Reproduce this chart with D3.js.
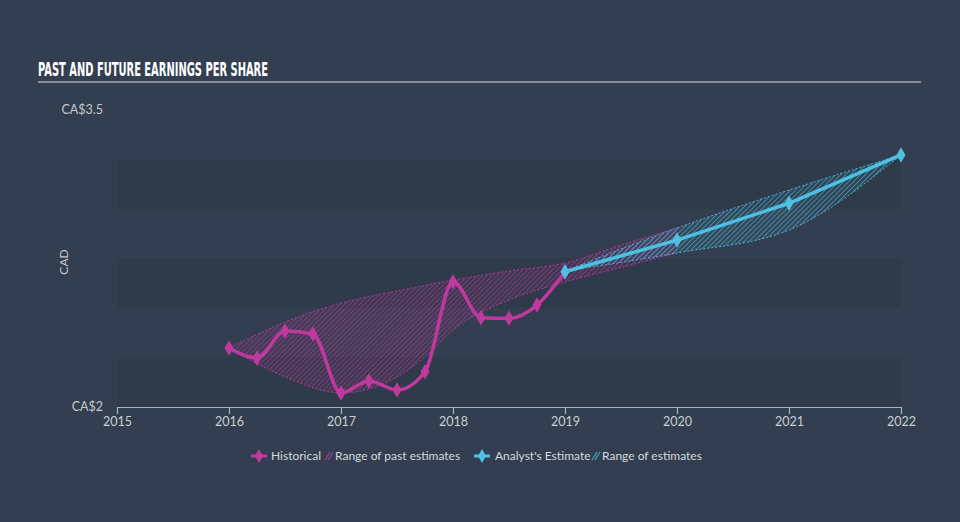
<!DOCTYPE html>
<html><head><meta charset="utf-8">
<script src="https://cdn.jsdelivr.net/npm/d3@7/dist/d3.min.js"></script>
<style>
html,body{margin:0;padding:0;background:#333f50;}
svg{display:block;}
</style></head>
<body>
<script>
// ---- data ----
const histDates = [2016, 2016.25, 2016.5, 2016.75, 2017, 2017.25, 2017.5, 2017.75, 2018, 2018.25, 2018.5, 2018.75, 2019];
const histEPS   = [2.298, 2.247, 2.384, 2.369, 2.071, 2.131, 2.086, 2.178, 2.633, 2.451, 2.448, 2.515, 2.683];
const estDates  = [2019, 2020, 2021, 2022];
const estEPS    = [2.683, 2.843, 3.029, 3.273];
const pastRangeDates = [2016, 2016.5, 2017, 2017.25, 2017.5, 2017.75, 2018, 2018.5, 2019, 2019.5, 2020];
const pastRangeHigh  = [2.298, 2.429, 2.525, 2.558, 2.586, 2.614, 2.641, 2.687, 2.727, 2.818, 2.904];
const pastRangeLow   = [2.298, 2.152, 2.071, 2.091, 2.152, 2.253, 2.389, 2.540, 2.631, 2.705, 2.778];
const estRangeDates = [2019, 2020, 2021, 2022];
const estRangeHigh  = [2.687, 2.904, 3.096, 3.273];
const estRangeLow   = [2.687, 2.778, 2.894, 3.273];
const xTicks = [2015, 2016, 2017, 2018, 2019, 2020, 2021, 2022];
const xTickLabels = ["2015", "2016", "2017", "2018", "2019", "2020", "2021", "2022"];
const yTicks = [2, 3.5];
const yTickLabels = ["CA$2", "CA$3.5"];
const bandStarts = [2, 2.5, 3];
const bandSize = 0.25;

const W = 960, H = 522;
const MAG = "#c0399f", BLUE = "#4dc0e3";
const svg = d3.select("body").append("svg").attr("width", W).attr("height", H);
svg.append("rect").attr("width", W).attr("height", H).attr("fill", "#333f50");

const defs = svg.append("defs");
function hatch(id, color) {
  const p = defs.append("pattern").attr("id", id).attr("patternUnits", "userSpaceOnUse")
    .attr("width", 3.5).attr("height", 3.5).attr("patternTransform", "rotate(45)");
  p.append("line").attr("x1", 0).attr("y1", 0).attr("x2", 0).attr("y2", 3.5)
    .attr("stroke", color).attr("stroke-width", 1.3).attr("stroke-opacity", 0.8);
}
hatch("hatchMag", MAG);
hatch("hatchBlue", BLUE);

const x = d3.scaleLinear().domain([2015, 2022]).range([117, 901]);
const y = d3.scaleLinear().domain([2, 3.5]).range([407, 110]);

// title
svg.append("text").attr("x", 38).attr("y", 76)
  .attr("font-family", "'DejaVu Sans Condensed', 'Liberation Sans Narrow', sans-serif")
  .attr("font-weight", "bold").attr("font-size", 20).attr("fill", "#ffffff")
  .attr("textLength", 230).attr("lengthAdjust", "spacingAndGlyphs")
  .text("PAST AND FUTURE EARNINGS PER SHARE");
svg.append("line").attr("x1", 38).attr("x2", 921).attr("y1", 82).attr("y2", 82)
  .attr("stroke", "#a3acb6").attr("stroke-width", 1.5);

// bands
svg.append("g").selectAll("rect").data(bandStarts).join("rect")
  .attr("x", x(2015)).attr("width", x(2022) - x(2015))
  .attr("y", d => y(d + bandSize)).attr("height", d => y(d) - y(d + bandSize))
  .attr("fill", "#2f3b4a");

// y labels
svg.append("g").selectAll("text").data(yTicks).join("text")
  .attr("x", 103).attr("y", d => y(d) + 4).attr("text-anchor", "end")
  .attr("font-family", "Lato, 'Open Sans', sans-serif").attr("font-size", 12.5)
  .attr("fill", "#c3c9cf").text((d, i) => yTickLabels[i]);
svg.append("text").attr("transform", "translate(68,262) rotate(-90)")
  .attr("text-anchor", "middle").attr("font-family", "Lato, 'Open Sans', sans-serif")
  .attr("font-size", 12).attr("fill", "#c3c9cf").text("CAD");

// x axis
const xAxis = d3.axisBottom(x).tickValues(xTicks).tickFormat((d, i) => xTickLabels[i])
  .tickSize(7).tickSizeOuter(0);
const gx = svg.append("g").attr("transform", "translate(0,407)").call(xAxis);
gx.select(".domain").attr("stroke", "#aab4bf").attr("stroke-width", 1.2);
gx.selectAll(".tick line").attr("stroke", "#aab4bf").attr("stroke-width", 1.2);
gx.selectAll(".tick text").attr("fill", "#c8ced4").attr("font-size", 12.5)
  .attr("font-family", "Lato, 'Open Sans', sans-serif").attr("dy", "0.85em").attr("y", 8);

// ranges
const area = d3.area().curve(d3.curveMonotoneX).x(d => x(d[0])).y0(d => y(d[1])).y1(d => y(d[2]));
const lineC = d3.line().curve(d3.curveMonotoneX);
const pastR = pastRangeDates.map((d, i) => [d, pastRangeLow[i], pastRangeHigh[i]]);
const estR = estRangeDates.map((d, i) => [d, estRangeLow[i], estRangeHigh[i]]);
function drawRange(data, pat, color) {
  svg.append("path").datum(data).attr("d", area).attr("fill", `url(#${pat})`);
  svg.append("path").datum(data).attr("d", area).attr("fill", color).attr("fill-opacity", 0.08);
  [1, 2].forEach(k => {
    svg.append("path").datum(data.map(d => [x(d[0]), y(d[k])])).attr("d", lineC)
      .attr("fill", "none").attr("stroke", color).attr("stroke-width", 1)
      .attr("stroke-dasharray", "2,2").attr("stroke-opacity", 0.9);
  });
}
drawRange(pastR, "hatchMag", MAG);
drawRange(estR, "hatchBlue", BLUE);

// lines
const hist = histDates.map((d, i) => [d, histEPS[i]]);
const est = estDates.map((d, i) => [d, estEPS[i]]);
svg.append("path").datum(hist)
  .attr("d", d3.line().curve(d3.curveMonotoneX).x(d => x(d[0])).y(d => y(d[1])))
  .attr("fill", "none").attr("stroke", MAG).attr("stroke-width", 3.5);
svg.append("path").datum(est)
  .attr("d", d3.line().x(d => x(d[0])).y(d => y(d[1])))
  .attr("fill", "none").attr("stroke", BLUE).attr("stroke-width", 3.5);
const diamond = d3.symbol().type(d3.symbolDiamond).size(70);
svg.append("g").selectAll("path").data(hist).join("path")
  .attr("d", diamond).attr("transform", d => `translate(${x(d[0])},${y(d[1])})`).attr("fill", MAG);
svg.append("g").selectAll("path").data(est).join("path")
  .attr("d", diamond).attr("transform", d => `translate(${x(d[0])},${y(d[1])})`).attr("fill", BLUE);

// legend
const lg = svg.append("g").attr("font-family", "Lato, 'Open Sans', sans-serif").attr("font-size", 12).attr("fill", "#d3d8dd");
function legMarker(cx, color) {
  lg.append("line").attr("x1", cx - 8).attr("x2", cx + 8).attr("y1", 456).attr("y2", 456)
    .attr("stroke", color).attr("stroke-width", 3);
  lg.append("path").attr("d", d3.symbol().type(d3.symbolDiamond).size(55)())
    .attr("transform", `translate(${cx},456)`).attr("fill", color);
}
function legHatch(cx, color) {
  for (let k = 0; k < 2; k++) {
    lg.append("line").attr("x1", cx - 3 + k * 3).attr("y1", 460).attr("x2", cx + 2 + k * 3).attr("y2", 452)
      .attr("stroke", color).attr("stroke-width", 1.2).attr("stroke-opacity", 0.8);
  }
}
legMarker(259, MAG);
lg.append("text").attr("x", 271).attr("y", 460).text("Historical");
legHatch(328, MAG);
lg.append("text").attr("x", 335).attr("y", 460).text("Range of past estimates");
legMarker(482, BLUE);
lg.append("text").attr("x", 495).attr("y", 460).text("Analyst's Estimate");
legHatch(595, BLUE);
lg.append("text").attr("x", 602).attr("y", 460).text("Range of estimates");
</script>
</body></html>
